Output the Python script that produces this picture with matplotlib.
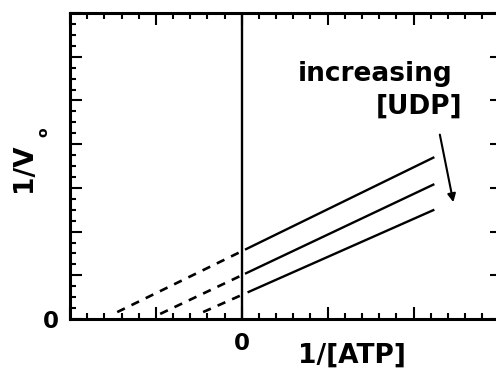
import numpy as np
import matplotlib
matplotlib.use("Agg")
import matplotlib.pyplot as plt
from matplotlib.ticker import MultipleLocator, FuncFormatter

plt.rcParams["font.weight"] = "bold"

# Lineweaver-Burk lines, one per [UDP] level
intercepts = [1.55, 1.0, 0.55]
slopes = [0.96, 0.93, 0.87]
dash_start = [-1.45, -0.95, -0.45]
solid_start = [0.05, 0.05, 0.08]
solid_end = [2.23, 2.23, 2.23]

W, H = 496, 369
fig = plt.figure(figsize=(W / 100, H / 100), dpi=100)
ax = fig.add_axes([70 / W, (H - 319) / H, (502 - 70) / W, (319 - 13) / H])
ax.set_xlim(-2, 3.03)
ax.set_ylim(0, 7)

for b, m, x0, x1, x2 in zip(intercepts, slopes, dash_start, solid_start, solid_end):
    xd = np.array([x0, 0])
    ax.plot(xd, b + m * xd, color="black", lw=1.9, ls=(0, (3.2, 2.8)), solid_capstyle="butt")
    xs = np.array([x1, x2])
    ax.plot(xs, b + m * xs, color="black", lw=1.7)

ax.axvline(0, color="black", lw=1.7)

for s in ax.spines.values():
    s.set_linewidth(2.2)

ax.xaxis.set_major_locator(MultipleLocator(1))
ax.xaxis.set_minor_locator(MultipleLocator(0.2))
ax.yaxis.set_major_locator(MultipleLocator(1))
ax.yaxis.set_minor_locator(MultipleLocator(0.25))
zero_only = FuncFormatter(lambda v, p: "0" if abs(v) < 1e-9 else "")
ax.xaxis.set_major_formatter(zero_only)
ax.yaxis.set_major_formatter(zero_only)
ax.tick_params(which="both", direction="in", top=True, right=True, width=1.5)
ax.tick_params(which="major", length=8.5, labelsize=16.5)
ax.tick_params(which="minor", length=4.5, right=False)
ax.tick_params(axis="x", which="major", pad=9)
ax.tick_params(axis="y", which="major", pad=8)

fig.text(351.5 / W, (H - 362.7) / H, "1/[ATP]", fontsize=19, fontweight="bold",
         ha="center", va="baseline")
fig.text(24 / W, (H - 167.5) / H, "1/V", fontsize=19, fontweight="bold",
         rotation=90, ha="center", va="center")
fig.text(43 / W, (H - 132) / H, "o", fontsize=10, fontweight="bold",
         rotation=90, ha="center", va="center")

ax.text(1.55, 5.45, "increasing", fontsize=19, fontweight="bold", ha="center", va="baseline")
ax.text(2.57, 4.69, "[UDP]", fontsize=19, fontweight="bold", ha="right", va="baseline")
ax.annotate("", xy=(2.47, 2.61), xytext=(2.30, 4.28),
            arrowprops=dict(arrowstyle="-|>", color="black", lw=1.5, mutation_scale=12))

fig.savefig("out.png", dpi=100)
